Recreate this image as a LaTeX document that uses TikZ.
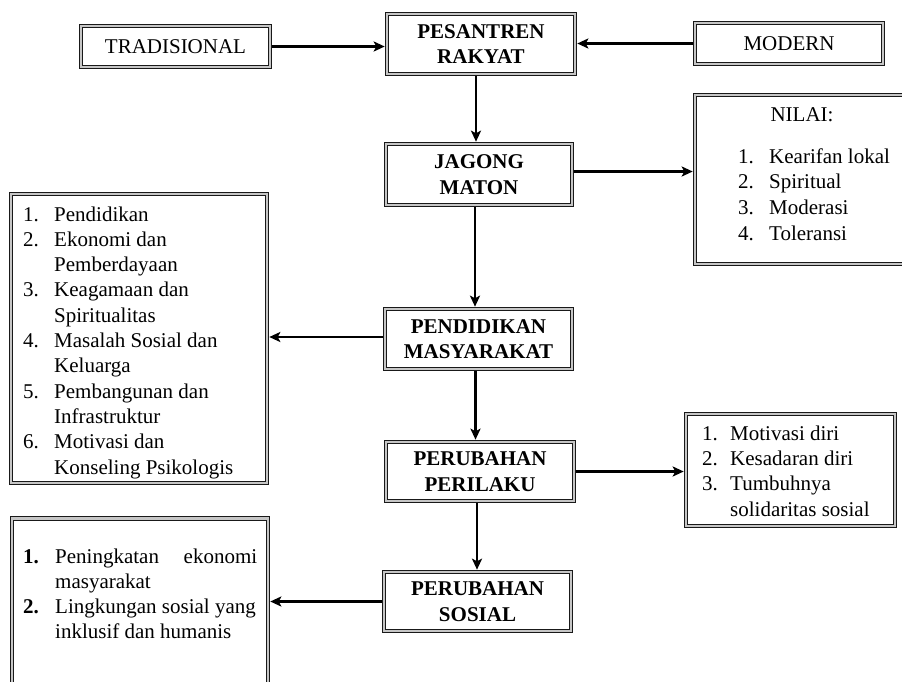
\documentclass[tikz,border=0pt]{standalone}
\usepackage{fontspec}
\setmainfont{Liberation Serif}
\usetikzlibrary{arrows.meta,calc}
\begin{document}
\begin{tikzpicture}[x=1pt,y=-1pt,
  bx/.style n args={2}{draw=black!90, line width=1.1pt, double=gray!45, double distance=2.4pt,
     fill=white, inner sep=0pt, outer sep=2.3pt, minimum width=#1, minimum height=#2},
  ttl/.style={font=\fontsize{21}{25.5}\selectfont\bfseries, align=center},
  txt/.style={font=\fontsize{21}{25}\selectfont},
  lst/.style={inner sep=0pt, anchor=base west},
  arr/.style={line width=2.8pt, -{Stealth[length=11pt,width=10pt,inset=2.5pt]}}
]
\useasboundingbox (0,0) rectangle (902,681);
\clip (0,0) rectangle (902,681);
\fill[white] (0,0) rectangle (902,681);

% top row
\node[bx={189}{41},txt] (trad) at (175.5,46.5) {TRADISIONAL};
\node[bx={188}{60},ttl] (pes) at (481,44) {PESANTREN\\RAKYAT};
\node[bx={188}{41},txt] (mod) at (789,43.5) {MODERN};

% Jagong Maton and values
\node[bx={186}{61},ttl] (jag) at (479,174.5) {JAGONG\\MATON};
\node[bx={218}{169}] (nilai) at (804,179.5) {};
\node[txt, inner sep=0pt, anchor=base] (nilaihd) at (802,121) {NILAI:};
\node[lst] (nilaiitems) at (738,163) {\fontsize{21}{25.7}\selectfont
  \begin{tabular}[t]{@{}p{31pt}@{}l@{}}
  1. & Kearifan lokal\\
  2. & Spiritual\\
  3. & Moderasi\\
  4. & Toleransi
  \end{tabular}};

% Pendidikan masyarakat
\node[bx={187}{60},ttl] (pm) at (478.5,339) {PENDIDIKAN\\MASYARAKAT};
\node[bx={256}{289}] (lleft) at (139,338.5) {};
\node[lst] (lefttext) at (23,221) {\fontsize{21}{25.3}\selectfont
  \begin{tabular}[t]{@{}p{31pt}@{}l@{}}
  1. & Pendidikan\\
  2. & Ekonomi dan\\
     & Pemberdayaan\\
  3. & Keagamaan dan\\
     & Spiritualitas\\
  4. & Masalah Sosial dan\\
     & Keluarga\\
  5. & Pembangunan dan\\
     & Infrastruktur\\
  6. & Motivasi dan\\
     & Konseling Psikologis
  \end{tabular}};

% Perubahan perilaku
\node[bx={188}{59},ttl] (pp) at (480,471.5) {PERUBAHAN\\PERILAKU};
\node[bx={209}{112}] (rlist) at (790.5,470) {};
\node[lst] (righttext) at (702,440) {\fontsize{21}{25.4}\selectfont
  \begin{tabular}[t]{@{}p{28pt}@{}l@{}}
  1. & Motivasi diri\\
  2. & Kesadaran diri\\
  3. & Tumbuhnya\\
     & solidaritas sosial
  \end{tabular}};

% Perubahan sosial
\node[bx={187}{59},ttl] (ps) at (477.5,601.5) {PERUBAHAN\\SOSIAL};
\node[bx={256}{180}] (blist) at (140,608.5) {};
\node[lst] (bottomtext) at (23,563) {\fontsize{21}{25}\selectfont
  \begin{tabular}[t]{@{}p{32pt}@{}l@{}}
  \textbf{1.} & \makebox[202pt][l]{Peningkatan\hfill ekonomi}\\
     & masyarakat\\
  \textbf{2.} & Lingkungan sosial yang\\
     & inklusif dan humanis
  \end{tabular}};

% connectors
\draw[arr] (trad.east) -- (trad.east -| pes.west);
\draw[arr] (mod.west) -- (mod.west -| pes.east);
\draw[arr] ([xshift=-5pt]pes.south) -- ([xshift=-5pt]pes.south |- jag.north);
\draw[arr] ([yshift=3pt]jag.east) -- ([yshift=3pt]jag.east -| nilai.west);
\draw[arr] ([xshift=-4pt]jag.south) -- ([xshift=-4pt]jag.south |- pm.north);
\draw[arr] ([yshift=2pt]pm.west) -- ([yshift=2pt]pm.west -| lleft.east);
\draw[arr] ([xshift=-3pt]pm.south) -- ([xshift=-3pt]pm.south |- pp.north);
\draw[arr] (pp.east) -- (pp.east -| rlist.west);
\draw[arr] ([xshift=-3pt]pp.south) -- ([xshift=-3pt]pp.south |- ps.north);
\draw[arr] (ps.west) -- (ps.west -| blist.east);
\end{tikzpicture}
\end{document}
